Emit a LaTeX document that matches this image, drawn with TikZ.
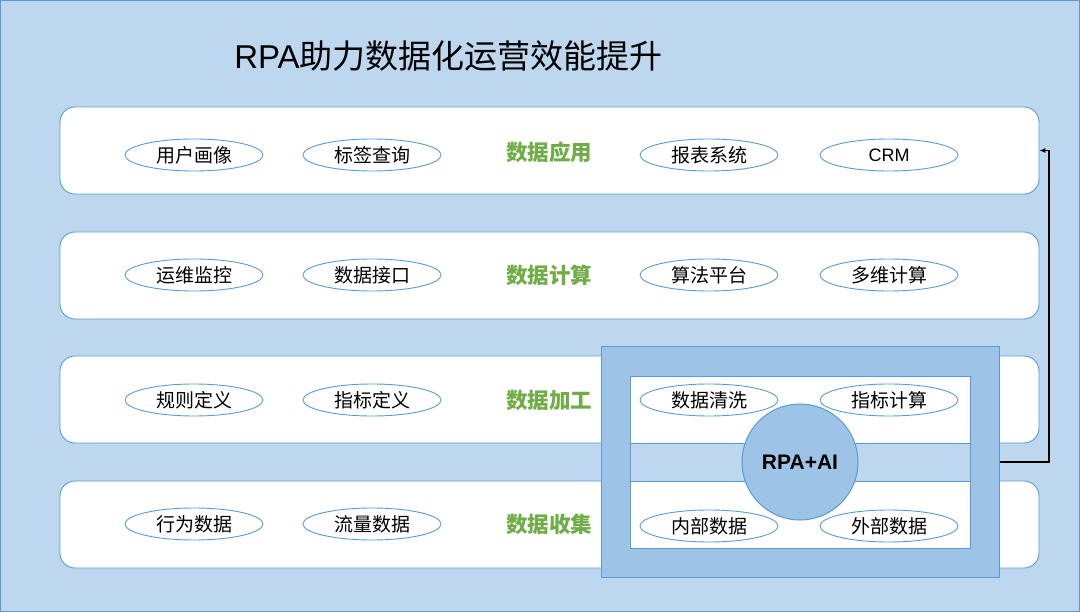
\documentclass[tikz,border=0pt]{standalone}
\usepackage{fontspec}
\setmainfont{Liberation Sans}
\newfontfamily\cjk{Noto Sans CJK SC}
\usetikzlibrary{shapes.geometric,arrows.meta}
\definecolor{bgblue}{HTML}{BDD7EE}
\definecolor{edgeblue}{HTML}{5B9BD5}
\definecolor{midblue}{HTML}{9DC3E6}
\definecolor{lgreen}{HTML}{70AD47}
\tikzset{
  rowbox/.style={draw=edgeblue, fill=white, rounded corners=15pt, minimum width=979pt, minimum height=87pt, line width=0.9pt},
  tag/.style={ellipse, draw=edgeblue, fill=white, minimum width=138pt, minimum height=32pt, inner sep=0pt, line width=0.9pt, font=\cjk\fontsize{19}{22}\selectfont},
  layer/.style={text=lgreen, font=\cjk\bfseries\fontsize{21.5}{24}\selectfont},
}
\begin{document}
\begin{tikzpicture}[x=1pt,y=-1pt]
\useasboundingbox (0,0) rectangle (1080,612);
\draw[fill=bgblue, draw=edgeblue, line width=1pt] (0.5,0.5) rectangle (1079.5,611.5);
\node[font=\fontsize{33}{37}\selectfont] (title) at (448.5,56) {RPA{\cjk 助力数据化运营效能提升}};
% rows
\node[rowbox] (row1) at (549.5,150.5) {};
\node[rowbox] (row2) at (549.5,275.5) {};
\node[rowbox] (row3) at (549.5,399.5) {};
\node[rowbox] (row4) at (549.5,524.5) {};
% row 1
\node[tag] (a1) at (194,155) {用户画像};
\node[tag] (a2) at (372,155) {标签查询};
\node[layer] (l1) at (549,152) {数据应用};
\node[tag] (a3) at (709,155) {报表系统};
\node[tag, font=\fontsize{18}{21}\selectfont] (a4) at (889,155) {CRM};
% row 2
\node[tag] (b1) at (194,275) {运维监控};
\node[tag] (b2) at (372,275) {数据接口};
\node[layer] (l2) at (549,275) {数据计算};
\node[tag] (b3) at (709,275) {算法平台};
\node[tag] (b4) at (889,275) {多维计算};
% row 3
\node[tag] (c1) at (194,400) {规则定义};
\node[tag] (c2) at (372,400) {指标定义};
\node[layer] (l3) at (549,400) {数据加工};
% row 4
\node[tag] (d1) at (194,524) {行为数据};
\node[tag] (d2) at (372,524) {流量数据};
\node[layer] (l4) at (549,524) {数据收集};
% RPA block
\node[draw=edgeblue, fill=midblue, line width=1pt, minimum width=398pt, minimum height=230pt, inner sep=0pt] (rpa) at (800,462) {};
\node[draw=edgeblue, fill=white, line width=0.9pt, minimum width=340pt, minimum height=172pt, inner sep=0pt] (inner) at (800,462) {};
\node[draw=edgeblue, fill=bgblue, line width=0.9pt, minimum width=340pt, minimum height=38pt, inner sep=0pt] (band) at (800,462) {};
\node[tag] (c3) at (709,400) {数据清洗};
\node[tag] (c4) at (889,400) {指标计算};
\node[tag] (d3) at (709,526) {内部数据};
\node[tag] (d4) at (889,526) {外部数据};
\node[circle, draw=edgeblue, fill=midblue, line width=1pt, minimum size=116pt, inner sep=0pt, font=\bfseries\fontsize{21}{24}\selectfont] (core) at (800,462) {RPA+AI};
% feedback arrow
\coordinate (turn) at (1049,150.5);
\draw[black, line width=1.1pt, -{Latex[length=6pt,width=5pt]}] (rpa.east) -| (turn) -- (row1.east);
\end{tikzpicture}
\end{document}
